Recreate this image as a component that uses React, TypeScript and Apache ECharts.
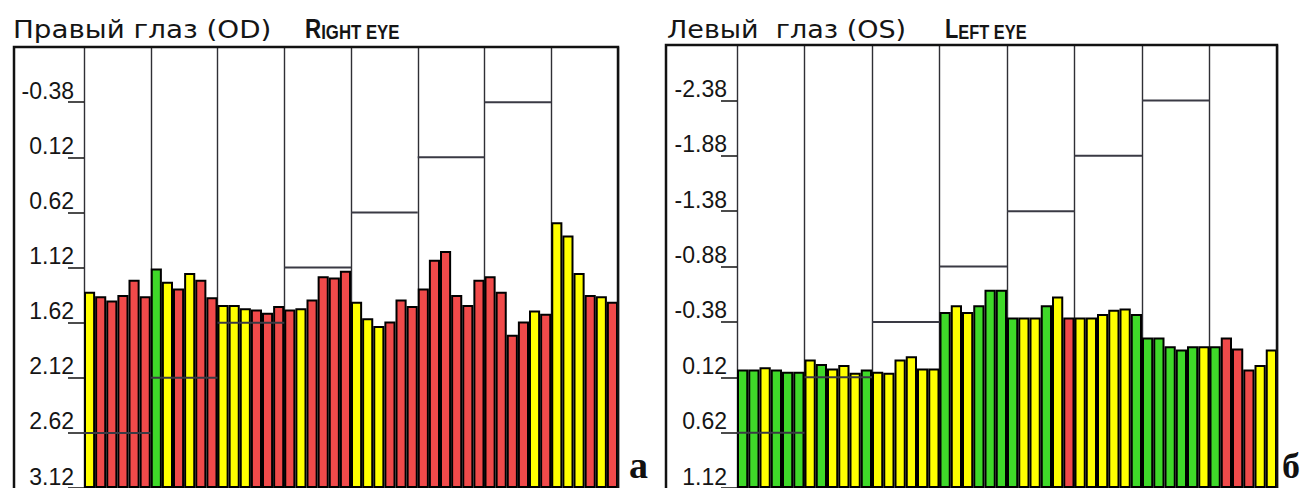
import React, { useEffect, useRef } from 'react';
import * as echarts from 'echarts';

// ---- Data ----
// Right eye (OD): bar top values on the inverted scale, 8 sectors x 6 points
const odValues = [
  1.34, 1.38, 1.42, 1.37, 1.23, 1.38,
  1.13, 1.25, 1.31, 1.17, 1.23, 1.39,
  1.46, 1.46, 1.49, 1.50, 1.53, 1.47,
  1.50, 1.49, 1.41, 1.20, 1.21, 1.15,
  1.43, 1.58, 1.65, 1.61, 1.41, 1.47,
  1.31, 1.05, 0.97, 1.37, 1.46, 1.23,
  1.20, 1.34, 1.73, 1.61, 1.51, 1.54,
  0.71, 0.83, 1.17, 1.37, 1.38, 1.43,
];
const odColors = [
  'y', 'r', 'r', 'r', 'r', 'r',
  'g', 'y', 'r', 'y', 'r', 'r',
  'y', 'y', 'y', 'r', 'r', 'r',
  'r', 'y', 'r', 'r', 'r', 'r',
  'y', 'y', 'y', 'r', 'r', 'r',
  'r', 'r', 'r', 'r', 'r', 'r',
  'r', 'r', 'r', 'r', 'y', 'r',
  'y', 'y', 'y', 'r', 'y', 'r',
];
const odThresholds = [2.62, 2.12, 1.62, 1.12, 0.62, 0.12, -0.38, null];
const odBottomTick = 3.12;

// Left eye (OS)
const osValues = [
  0.05, 0.05, 0.03, 0.05, 0.07, 0.07,
  -0.04, 0.00, 0.04, 0.01, 0.08, 0.05,
  0.07, 0.08, -0.04, -0.07, 0.04, 0.04,
  -0.47, -0.53, -0.47, -0.53, -0.67, -0.67,
  -0.42, -0.42, -0.42, -0.53, -0.61, -0.42,
  -0.42, -0.42, -0.45, -0.49, -0.50, -0.45,
  -0.24, -0.24, -0.16, -0.13, -0.16, -0.16,
  -0.16, -0.24, -0.14, 0.05, 0.01, -0.13,
];
const osColors = [
  'g', 'g', 'y', 'g', 'g', 'g',
  'y', 'g', 'y', 'y', 'y', 'g',
  'y', 'y', 'y', 'y', 'y', 'y',
  'g', 'y', 'y', 'g', 'g', 'g',
  'g', 'y', 'y', 'g', 'y', 'r',
  'y', 'y', 'y', 'y', 'y', 'g',
  'g', 'g', 'g', 'g', 'g', 'y',
  'g', 'r', 'r', 'r', 'y', 'y',
];
const osThresholds = [0.62, 0.12, -0.38, -0.88, -1.38, -1.88, -2.38, null];
const osBottomTick = 1.12;

const AXIS_SPAN = 4; // units from bottom tick to top edge
const TICK_STEP = 0.5;
const SECTORS = 8;

const palette: Record<string, string> = { r: '#f04a4a', y: '#ffff00', g: '#3fd929' };
const pointNames = odValues.map((_, i) => String(i + 1));

const LABEL_FONT = '"Liberation Sans", Arial, sans-serif';
const TITLE_FONT = '"DejaVu Sans", sans-serif';

function panelAxes(gridIndex: number, bottomTick: number) {
  const xCat = {
    type: 'category', gridIndex, data: pointNames, show: false, boundaryGap: true,
  };
  const xVal = {
    type: 'value', gridIndex, min: 0, max: SECTORS, interval: 1,
    axisLine: { show: false }, axisTick: { show: false }, axisLabel: { show: false },
    splitLine: { show: true, lineStyle: { color: '#2f2f35', width: 1.4 } },
  };
  const y = {
    type: 'value', gridIndex, min: 0, max: AXIS_SPAN, interval: TICK_STEP,
    axisLine: { show: false },
    axisTick: { show: true, length: 16, lineStyle: { color: '#111', width: 1.5 } },
    splitLine: { show: false },
    axisLabel: {
      margin: 10, verticalAlign: 'bottom', fontSize: 23, fontFamily: LABEL_FONT, color: '#151515',
      formatter: (d: number) => (d >= AXIS_SPAN - 0.01 ? '' : (bottomTick - d).toFixed(2)),
    },
  };
  return { xCat, xVal, y };
}

function panelSeries(values: number[], colors: string[], thresholds: (number | null)[], bottomTick: number, catAxis: number, valAxis: number, yAxis: number) {
  const bars = {
    type: 'bar', xAxisIndex: catAxis, yAxisIndex: yAxis, barCategoryGap: '0%', z: 2,
    itemStyle: { borderColor: '#000', borderWidth: 2 },
    data: values.map((v, i) => ({ value: bottomTick - v, itemStyle: { color: palette[colors[i]] } })),
  };
  const lines = {
    type: 'custom', xAxisIndex: valAxis, yAxisIndex: yAxis, z: 5,
    data: thresholds.map((t, i) => (t == null ? null : [i, bottomTick - t])).filter((x) => x !== null),
    renderItem: (_p: any, api: any) => {
      const s = api.value(0);
      const d = api.value(1);
      const a = api.coord([s, d]);
      const b = api.coord([s + 1, d]);
      return {
        type: 'line',
        shape: { x1: a[0], y1: a[1], x2: b[0], y2: b[1] },
        style: { stroke: '#3a3a44', lineWidth: 2 },
      };
    },
  };
  return [bars, lines];
}

export default function App() {
  const ref = useRef<HTMLDivElement>(null);
  useEffect(() => {
    if (!ref.current) return;
    const chart = echarts.init(ref.current, undefined, { renderer: 'svg' });
    const L = panelAxes(0, odBottomTick);
    const R = panelAxes(1, osBottomTick);
    const option: any = {
      animation: false,
      backgroundColor: '#ffffff',
      grid: [
        { left: 84, top: 47, width: 534, height: 444 },
        { left: 737, top: 45, width: 540, height: 449 },
      ],
      xAxis: [L.xCat, L.xVal, R.xCat, R.xVal],
      yAxis: [L.y, R.y],
      series: [
        ...panelSeries(odValues, odColors, odThresholds, odBottomTick, 0, 1, 0),
        ...panelSeries(osValues, osColors, osThresholds, osBottomTick, 2, 3, 1),
      ],
      graphic: [
        { type: 'rect', z: 100, shape: { x: 14, y: 47, width: 604, height: 470 }, style: { fill: 'none', stroke: '#111', lineWidth: 2.5 } },
        { type: 'rect', z: 100, shape: { x: 666, y: 45, width: 611, height: 470 }, style: { fill: 'none', stroke: '#111', lineWidth: 2.5 } },
        { type: 'text', z: 100, x: 13, y: 29, scaleX: 1.11, style: { text: 'Правый глаз (OD)', fontSize: 25, fontFamily: TITLE_FONT, fill: '#151515', align: 'left', verticalAlign: 'middle' } },
        { type: 'text', z: 100, x: 667, y: 29, scaleX: 1.08, style: { text: 'Левый  глаз (OS)', fontSize: 25, fontFamily: TITLE_FONT, fill: '#151515', align: 'left', verticalAlign: 'middle' } },
        {
          type: 'text', z: 100, x: 305, y: 42, scaleX: 0.8,
          style: {
            text: '{a|R}{b|IGHT EYE}', align: 'left', verticalAlign: 'bottom', fill: '#151515',
            rich: {
              a: { fontSize: 28, fontFamily: LABEL_FONT, fontWeight: 'bold', verticalAlign: 'bottom', fill: '#151515' },
              b: { fontSize: 21, fontFamily: LABEL_FONT, fontWeight: 'bold', verticalAlign: 'bottom', fill: '#151515' },
            },
          },
        },
        {
          type: 'text', z: 100, x: 945, y: 42, scaleX: 0.78,
          style: {
            text: '{a|L}{b|EFT EYE}', align: 'left', verticalAlign: 'bottom', fill: '#151515',
            rich: {
              a: { fontSize: 28, fontFamily: LABEL_FONT, fontWeight: 'bold', verticalAlign: 'bottom', fill: '#151515' },
              b: { fontSize: 21, fontFamily: LABEL_FONT, fontWeight: 'bold', verticalAlign: 'bottom', fill: '#151515' },
            },
          },
        },
        { type: 'text', z: 100, x: 629, y: 484, style: { text: 'а', fontSize: 38, fontFamily: '"Liberation Serif", serif', fontWeight: 'bold', fill: '#111', align: 'left', verticalAlign: 'bottom' } },
        { type: 'text', z: 100, x: 1282, y: 484, style: { text: 'б', fontSize: 36, fontFamily: '"Liberation Serif", serif', fontWeight: 'bold', fill: '#111', align: 'left', verticalAlign: 'bottom' } },
      ],
    };
    chart.setOption(option);
    return () => chart.dispose();
  }, []);
  return <div ref={ref} style={{ position: 'absolute', left: 0, top: 0, width: 1306, height: 488 }} />;
}
